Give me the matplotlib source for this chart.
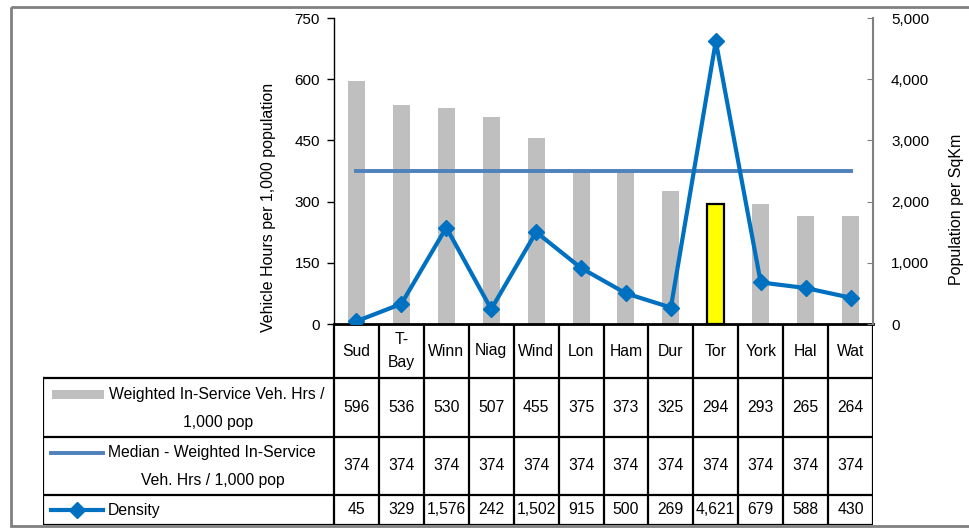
import matplotlib
matplotlib.use("Agg")
import matplotlib.pyplot as plt
from matplotlib.patches import Rectangle
from matplotlib.lines import Line2D

plt.rcParams['font.family'] = ['Liberation Sans', 'DejaVu Sans']

# Municipal transit comparison data
cities = ["Sud", "T-\nBay", "Winn", "Niag", "Wind", "Lon", "Ham", "Dur", "Tor", "York", "Hal", "Wat"]
veh_hours = [596, 536, 530, 507, 455, 375, 373, 325, 294, 293, 265, 264]
median_hours = [374, 374, 374, 374, 374, 374, 374, 374, 374, 374, 374, 374]
density = [45, 329, 1576, 242, 1502, 915, 500, 269, 4621, 679, 588, 430]
highlight = "Tor"

series_names = ["Weighted In-Service Veh. Hrs /\n1,000 pop",
                "Median - Weighted In-Service\nVeh. Hrs / 1,000 pop",
                "Density"]

W, H = 969, 531
FS_TICK = 11
FS_TAB = 11.3
FS_LABEL = 11.5

fig = plt.figure(figsize=(W / 100, H / 100), dpi=100)

def px_box(x0, y0, x1, y1):
    return [x0 / W, 1 - y1 / H, (x1 - x0) / W, (y1 - y0) / H]

# Outer chart frame
frame = fig.add_axes([0, 0, 1, 1], zorder=-1)
frame.set_xlim(0, W)
frame.set_ylim(H, 0)
frame.axis("off")
frame.add_patch(Rectangle((11, 7), W + 20, 519, fill=False, edgecolor="#808080", lw=2))

# Plot area
X0, X1, Y0, Y1 = 334, 873, 18, 324
ax = fig.add_axes(px_box(X0, Y0, X1, Y1))
n = len(cities)
xs = list(range(n))
bar_colors = ["#FFFF00" if c == highlight else "#BFBFBF" for c in cities]
edge_colors = ["black" if c == highlight else "none" for c in cities]
ax.bar(xs, veh_hours, width=0.38, color=bar_colors, edgecolor=edge_colors, linewidth=1.6, zorder=2)
ax.plot(xs, median_hours, color="#4F81BD", lw=2.8, zorder=3)
ax.set_xlim(-0.5, n - 0.5)
ax.set_ylim(0, 750)
ax.set_yticks(range(0, 751, 150))
ax.set_xticks([i + 0.5 for i in range(n - 1)])
ax.set_xticklabels([])
ax.tick_params(axis="x", length=0)
ax.tick_params(axis="y", direction="out", length=5, width=1, labelsize=FS_TICK, pad=5)
for s in ["top", "right"]:
    ax.spines[s].set_visible(False)
ax.spines["left"].set_linewidth(1)
ax.spines["bottom"].set_linewidth(2)
ax.set_ylabel("Vehicle Hours per 1,000 population", fontsize=FS_LABEL)
ax.yaxis.set_label_coords(-0.108, 0.38)

ax2 = ax.twinx()
ax2.plot(xs, density, color="#0070C0", lw=3, marker="D", markersize=8.5, zorder=4)
ax2.set_ylim(0, 5000)
ax2.set_yticks(range(0, 5001, 1000))
ax2.set_yticklabels([f"{v:,}" for v in range(0, 5001, 1000)])
ax2.tick_params(axis="y", direction="in", length=4, color="#808080", labelsize=FS_TICK, pad=13)
for s in ["top", "left", "bottom"]:
    ax2.spines[s].set_visible(False)
ax2.spines["right"].set_color("#808080")
ax2.spines["right"].set_linewidth(1.5)
ax2.set_ylabel("Population per SqKm", fontsize=FS_LABEL)
ax2.yaxis.set_label_coords(1.141, 0.373)
ax2.set_zorder(ax.get_zorder() + 1)
ax2.patch.set_visible(False)

# Data table beneath the plot
TX0 = 43
TY0, TY1 = 324, 525
tab = fig.add_axes(px_box(TX0, TY0, X1, TY1))
colw = (X1 - X0) / n
left_edge = -0.5 - (X0 - TX0) / colw
tab.set_xlim(left_edge, n - 0.5)
tab.set_ylim(TY1, TY0)
tab.axis("off")

rows = [324, 378, 437, 495, 525]
lk = dict(color="black", lw=1.6, solid_capstyle="projecting")
for i, y in enumerate(rows):
    xa = -0.5 if i == 0 else left_edge
    tab.add_line(Line2D([xa, n - 0.5], [y, y], **lk))
tab.add_line(Line2D([left_edge, left_edge], [rows[1], rows[-1]], **lk))
for i in range(n + 1):
    tab.add_line(Line2D([i - 0.5, i - 0.5], [rows[0], rows[-1]], **lk))

# Header row with city names
for i, c in enumerate(cities):
    tab.text(i, (rows[0] + rows[1]) / 2, c, ha="center", va="center", fontsize=FS_TAB, linespacing=1.7)

# Value rows
for r, vals in enumerate([veh_hours, median_hours, density]):
    yc = (rows[r + 1] + rows[r + 2]) / 2
    for i, v in enumerate(vals):
        tab.text(i, yc, f"{v:,}", ha="center", va="center", fontsize=FS_TAB)

# Series labels with legend keys
def px2x(px):
    return left_edge + (px - TX0) / colw

# Row 1: bars
tab.add_patch(Rectangle((px2x(52), 390), (104 - 52) / colw, 9, color="#BFBFBF", lw=0))
tab.text(px2x(109), 394, series_names[0].split("\n")[0], ha="left", va="center", fontsize=FS_TAB)
tab.text(px2x(218), 422, series_names[0].split("\n")[1], ha="center", va="center", fontsize=FS_TAB)
# Row 2: median line
tab.add_line(Line2D([px2x(51), px2x(103)], [453, 453], color="#4F81BD", lw=2.8))
tab.text(px2x(108), 453, series_names[1].split("\n")[0], ha="left", va="center", fontsize=FS_TAB)
tab.text(px2x(213), 481, series_names[1].split("\n")[1], ha="center", va="center", fontsize=FS_TAB)
# Row 3: density line with marker
tab.add_line(Line2D([px2x(51), px2x(103)], [510, 510], color="#0070C0", lw=3))
tab.add_line(Line2D([px2x(77)], [510], color="#0070C0", marker="D", markersize=8))
tab.text(px2x(108), 510, series_names[2], ha="left", va="center", fontsize=FS_TAB)

fig.savefig("out.png", dpi=100)
